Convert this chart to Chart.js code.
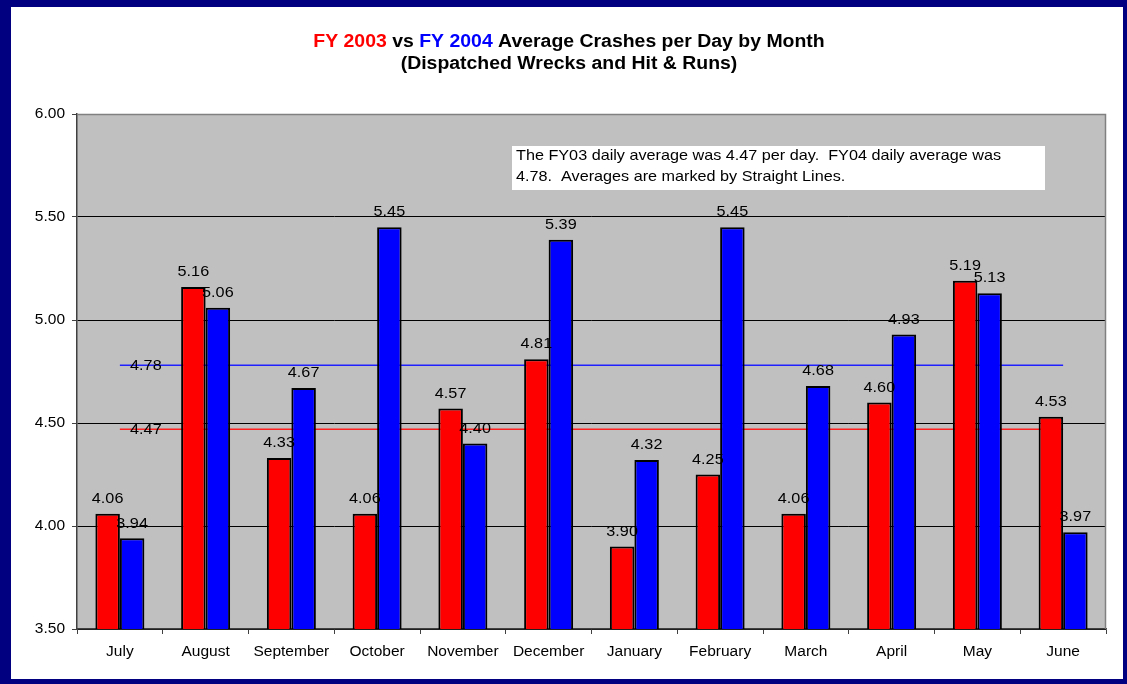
<!DOCTYPE html>
<html>
<head>
<meta charset="utf-8">
<script src="https://cdn.jsdelivr.net/npm/chart.js@4/dist/chart.umd.min.js"></script>
<style>
html,body{margin:0;padding:0;background:#fff;}
#wrap{width:1127px;height:684px;}
</style>
</head>
<body>
<div id="wrap"><canvas id="c" width="1127" height="684"></canvas></div>
<script>
const months = ['July','August','September','October','November','December','January','February','March','April','May','June'];
const fy2003 = [4.06,5.16,4.33,4.06,4.57,4.81,3.90,4.25,4.06,4.60,5.19,4.53];
const fy2004 = [3.94,5.06,4.67,5.45,4.40,5.39,4.32,5.45,4.68,4.93,5.13,3.97];
const fy2003Avg = [4.47,4.47,4.47,4.47,4.47,4.47,4.47,4.47,4.47,4.47,4.47,4.47];
const fy2004Avg = [4.78,4.78,4.78,4.78,4.78,4.78,4.78,4.78,4.78,4.78,4.78,4.78];
const yTicks = [3.5,4.0,4.5,5.0,5.5,6.0];
const titleLine1 = [['FY 2003','#FF0000'],[' vs ','#000000'],['FY 2004','#0000FF'],[' Average Crashes per Day by Month','#000000']];
const titleLine2 = '(Dispatched Wrecks and Hit & Runs)';
const noteLines = ['The FY03 daily average was 4.47 per day.  FY04 daily average was','4.78.  Averages are marked by Straight Lines.'];

const FONT = '"Liberation Sans", Arial, sans-serif';
const SX = 1.08;

function stretchText(ctx, segs, x, y, font, align) {
  ctx.save();
  ctx.font = font;
  let total = 0;
  segs.forEach(s => total += ctx.measureText(s[0]).width);
  ctx.translate(x, y);
  ctx.scale(SX, 1);
  let cx = align === 'center' ? -total/2 : 0;
  ctx.textBaseline = 'middle';
  ctx.textAlign = 'left';
  segs.forEach(s => { ctx.fillStyle = s[1]; ctx.fillText(s[0], cx, 0); cx += ctx.measureText(s[0]).width; });
  ctx.restore();
}

const decor = {
  id: 'decor',
  beforeDraw(chart) {
    const ctx = chart.ctx;
    const a = chart.chartArea;
    ctx.save();
    ctx.fillStyle = '#000080';
    ctx.fillRect(0, 0, chart.width, chart.height);
    ctx.fillStyle = '#FFFFFF';
    ctx.fillRect(11, 7, 1123 - 11, 679 - 7);
    ctx.fillStyle = '#C0C0C0';
    ctx.fillRect(a.left, a.top, a.right - a.left, a.bottom - a.top);
    ctx.restore();
  },
  beforeDatasetsDraw(chart) {
    const ctx = chart.ctx;
    const a = chart.chartArea;
    ctx.save();
    ctx.strokeStyle = '#808080';
    ctx.lineWidth = 1.5;
    ctx.beginPath();
    ctx.moveTo(a.left, a.top + 0.5);
    ctx.lineTo(a.right - 0.5, a.top + 0.5);
    ctx.lineTo(a.right - 0.5, a.bottom);
    ctx.stroke();
    ctx.restore();
  },
  afterDraw(chart) {
    const ctx = chart.ctx;
    stretchText(ctx, titleLine1, 569, 42, 'bold 18px ' + FONT, 'center');
    stretchText(ctx, [[titleLine2, '#000000']], 569, 64, 'bold 18px ' + FONT, 'center');
    ctx.save();
    ctx.fillStyle = '#FFFFFF';
    ctx.fillRect(512, 146, 1045 - 512, 190 - 146);
    ctx.restore();
    stretchText(ctx, [[noteLines[0], '#000000']], 516, 156, '15px ' + FONT, 'left');
    stretchText(ctx, [[noteLines[1], '#000000']], 516, 177, '15px ' + FONT, 'left');
    [0, 1].forEach(di => {
      const meta = chart.getDatasetMeta(di);
      const data = chart.data.datasets[di].data;
      meta.data.forEach((el, i) => {
        stretchText(ctx, [[data[i].toFixed(2), '#000000']], el.x, el.y - 15, '15px ' + FONT, 'center');
      });
    });
    [2, 3].forEach(di => {
      const meta = chart.getDatasetMeta(di);
      const data = chart.data.datasets[di].data;
      const el = meta.data[0];
      stretchText(ctx, [[data[0].toFixed(2), '#000000']], el.x + 26, el.y + 1, '15px ' + FONT, 'center');
    });
  }
};

new Chart(document.getElementById('c'), {
  data: {
    labels: months,
    datasets: [
      { type: 'bar', label: 'FY 2003', data: fy2003, backgroundColor: '#FF0000', borderColor: '#000000', borderWidth: 2, borderSkipped: false, order: 1, categoryPercentage: 0.5714, barPercentage: 1.0 },
      { type: 'bar', label: 'FY 2004', data: fy2004, backgroundColor: '#0000FF', borderColor: '#000000', borderWidth: 2, borderSkipped: false, order: 1, categoryPercentage: 0.5714, barPercentage: 1.0 },
      { type: 'line', label: 'FY03 Avg', data: fy2003Avg, borderColor: '#FF2020', borderWidth: 1.5, pointRadius: 0, fill: false, order: 2 },
      { type: 'line', label: 'FY04 Avg', data: fy2004Avg, borderColor: '#2020FF', borderWidth: 1.5, pointRadius: 0, fill: false, order: 2 }
    ]
  },
  options: {
    responsive: false,
    animation: false,
    devicePixelRatio: 1,
    layout: { padding: { left: 0, top: 114, right: 21, bottom: 0 } },
    plugins: { legend: { display: false }, tooltip: { enabled: false }, title: { display: false } },
    scales: {
      x: {
        afterFit(s) { s.height = 55; },
        grid: { offset: true, drawOnChartArea: false, drawTicks: true, tickLength: 5, color: '#404040', lineWidth: 1 },
        border: { color: '#404040', width: 1.5 },
        ticks: { color: '#000000', font: { family: FONT, size: 15.5 }, padding: 8, maxRotation: 0, autoSkip: false }
      },
      y: {
        min: 3.5, max: 6.0,
        afterFit(s) { s.width = 77; },
        afterBuildTicks(s) { s.ticks = yTicks.map(v => ({ value: v })); },
        grid: {
          drawTicks: true, tickLength: 5, tickColor: '#404040', lineWidth: 1,
          color: (c) => (c.tick && c.tick.value === 6.0) ? '#808080' : '#000000'
        },
        border: { color: '#404040', width: 1.5 },
        ticks: { color: '#000000', font: { family: FONT, size: 15.5 }, padding: 7, callback: (v) => Number(v).toFixed(2) }
      }
    }
  },
  plugins: [decor]
});
</script>
</body>
</html>
